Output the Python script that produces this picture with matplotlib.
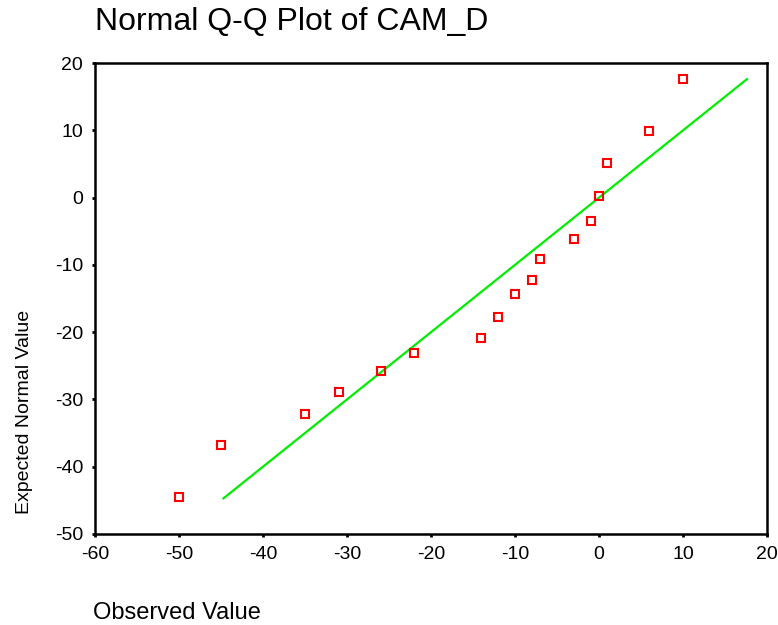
import matplotlib
matplotlib.use("Agg")
import matplotlib.pyplot as plt

# Observed vs expected normal values
observed = [-50, -45, -35, -31, -26, -22, -14, -12, -10, -8, -7, -3, -1, 0, 1, 6, 10]
expected = [-44.5, -36.8, -32.2, -28.9, -25.8, -23.1, -20.8, -17.7, -14.4,
            -12.3, -9.2, -6.1, -3.5, 0.3, 5.2, 9.9, 17.6]
line_ends = [-44.7, 17.6]
x_ticks = [-60, -50, -40, -30, -20, -10, 0, 10, 20]
y_ticks = [-50, -40, -30, -20, -10, 0, 10, 20]

plt.rcParams['font.family'] = ['Liberation Sans', 'DejaVu Sans']
plt.rcParams['axes.unicode_minus'] = False

fig = plt.figure(figsize=(7.78, 6.25), dpi=100)
ax = fig.add_axes([0.122, 0.1456, 0.864, 0.7536])

# reference line y = x
ax.plot(line_ends, line_ends, color='#00ee00', lw=1.6, zorder=2)
ax.plot(observed, expected, ls='none', marker='s', ms=5.5, mfc='none',
        mec='#ff0000', mew=1.5, zorder=3)

ax.set_xlim(-60, 20)
ax.set_ylim(-50, 20)
ax.set_xticks(x_ticks)
ax.set_yticks(y_ticks)
ax.tick_params(direction='out', length=2.5, width=2, labelsize=14, pad=6)
for s in ax.spines.values():
    s.set_linewidth(1.8)

fig.text(0.122, 1 - 22 / 625, 'Normal Q-Q Plot of CAM_D', ha='left', va='center', fontsize=23)
fig.text(93 / 778, 1 - 613 / 625, 'Observed Value', ha='left', va='center', fontsize=17)
fig.text(25 / 778, 1 - 412 / 625, 'Expected Normal Value', ha='center', va='center',
         rotation=90, fontsize=14)

fig.savefig('out.png', dpi=100)
